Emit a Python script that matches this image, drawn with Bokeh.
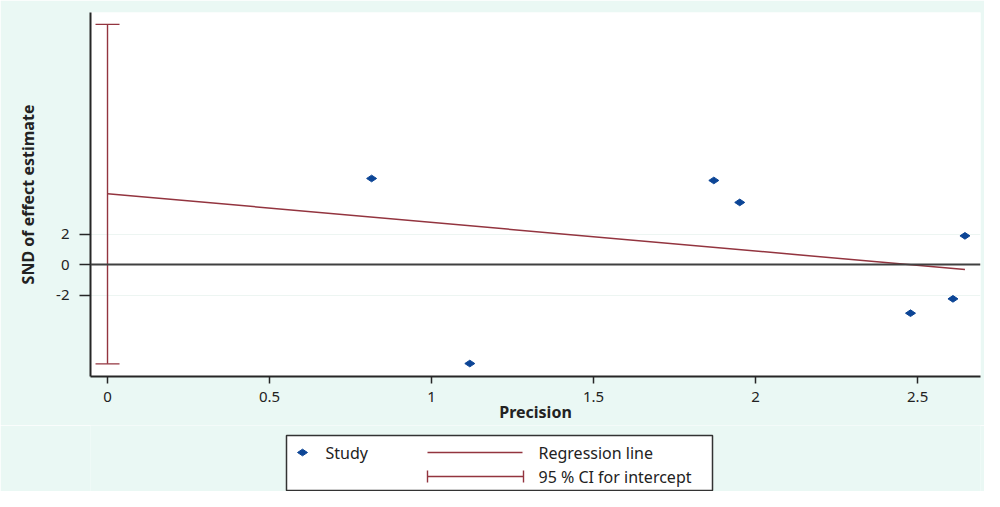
import math
from bokeh.plotting import figure
from bokeh.models import Range1d, FixedTicker, Span, Whisker, TeeHead, ColumnDataSource
from bokeh.layouts import column
from bokeh.embed import file_html
from bokeh.resources import INLINE
from bokeh.core.properties import value

# ---- data ----
precision = [0.815, 1.118, 1.871, 1.951, 2.478, 2.609, 2.646]
snd = [5.64, -6.49, 5.51, 4.07, -3.19, -2.25, 1.88]
reg_x = [0.0, 2.646]
reg_y = [4.64, -0.33]
ci_base = [0.0]
ci_lower = [-6.51]
ci_upper = [15.74]
x_ticks = [0, 0.5, 1, 1.5, 2, 2.5]
x_tick_labels = ["0", "0.5", "1", "1.5", "2", "2.5"]
y_ticks = [-2, 0, 2]
y_tick_labels = ["-2", "0", "2"]
legend_labels = ["Study", "Regression line", "95 % CI for intercept"]
x_title = "Precision"
y_title = "SND of effect estimate"

BG = "#eaf8f4"
NAVY = "#0c4596"
MAROON = "#93343f"
AXIS = "#262626"
SANS = "Noto Sans"

W = 984
H1 = 425
H2 = 491 - H1
FL, FR = 90, 980   # frame left / right in page pixels

p = figure(width=W, height=H1, x_range=Range1d(-0.0525, 2.694), y_range=Range1d(-7.34, 16.52),
           output_backend="svg", toolbar_location=None,
           min_border_left=FL, min_border_right=W - FR, min_border_top=12, min_border_bottom=H1 - 376)
p.background_fill_color = "white"
p.border_fill_color = BG
p.outline_line_color = None

p.xgrid.grid_line_color = None
p.ygrid.grid_line_color = "#edf5f2"
p.ygrid.grid_line_width = 1

p.xaxis.ticker = FixedTicker(ticks=x_ticks)
p.xaxis.major_label_overrides = {t: l for t, l in zip(x_ticks, x_tick_labels)}
p.yaxis.ticker = FixedTicker(ticks=y_ticks)
p.yaxis.major_label_overrides = {t: l for t, l in zip(y_ticks, y_tick_labels)}

for ax in (p.xaxis, p.yaxis):
    ax.axis_line_color = AXIS
    ax.axis_line_width = 2
    ax.major_tick_line_color = AXIS
    ax.major_tick_line_width = 1.5
    ax.major_tick_in = 0
    ax.minor_tick_line_color = None
    ax.major_label_text_font = SANS
    ax.major_label_text_font_size = "15px"
    ax.major_label_text_color = "#222222"
    ax.axis_label_text_font = SANS
    ax.axis_label_text_font_style = "bold"
    ax.axis_label_text_font_size = "16px"
    ax.axis_label_text_color = "#222222"

p.xaxis.axis_label = x_title
p.xaxis.major_tick_out = 7
p.xaxis.major_label_standoff = 8
p.xaxis.axis_label_standoff = -4

p.yaxis.axis_label = y_title
p.yaxis.major_tick_out = 11
p.yaxis.major_label_standoff = 10
p.yaxis.axis_label_standoff = 14
p.yaxis.major_label_orientation = "horizontal"

# zero reference line
p.add_layout(Span(location=0, dimension="width", line_color="#404040", line_width=2))

# regression line
p.line(reg_x, reg_y, line_color=MAROON, line_width=1.5)

# CI for intercept
ci_src = ColumnDataSource(dict(base=ci_base, lower=ci_lower, upper=ci_upper))
p.add_layout(Whisker(source=ci_src, base="base", lower="lower", upper="upper", dimension="height",
                     line_color=MAROON, line_width=1.4,
                     upper_head=TeeHead(size=24, line_color=MAROON, line_width=1.4),
                     lower_head=TeeHead(size=24, line_color=MAROON, line_width=1.4)))

# studies
p.scatter(precision, snd, marker="diamond", angle=math.pi / 2, size=10,
          fill_color=NAVY, line_color=NAVY)

# ---- legend panel (drawn below the plot, page-pixel coordinates) ----
q = figure(width=W, height=H2, x_range=Range1d(FL, FR), y_range=Range1d(H1 + H2, H1),
           output_backend="svg", toolbar_location=None,
           min_border_left=FL, min_border_right=W - FR, min_border_top=0, min_border_bottom=0)
q.axis.visible = False
q.grid.visible = False
q.outline_line_color = None
q.background_fill_color = BG
q.border_fill_color = BG

q.quad(left=[286], right=[712], top=[435], bottom=[490], fill_color="white",
       line_color="#333333", line_width=1.5)
q.scatter([302], [452], marker="diamond", angle=math.pi / 2, size=10, fill_color=NAVY, line_color=NAVY)
q.text([325], [452], text=[legend_labels[0]], text_font=value(SANS), text_font_size="16px",
       text_baseline="middle", text_color="#222222")
q.segment([427], [452], [522], [452], line_color=MAROON, line_width=1.4)
q.text([538], [452], text=[legend_labels[1]], text_font=value(SANS), text_font_size="16px",
       text_baseline="middle", text_color="#222222")
q.segment([427, 427, 523], [476, 470, 470], [523, 427, 523], [476, 482, 482],
          line_color=MAROON, line_width=1.4)
q.text([538], [476], text=[legend_labels[2]], text_font=value(SANS), text_font_size="16px",
       text_baseline="middle", text_color="#222222")

layout = column(p, q, spacing=0)
open("out.html", "w").write(file_html(layout, INLINE))
